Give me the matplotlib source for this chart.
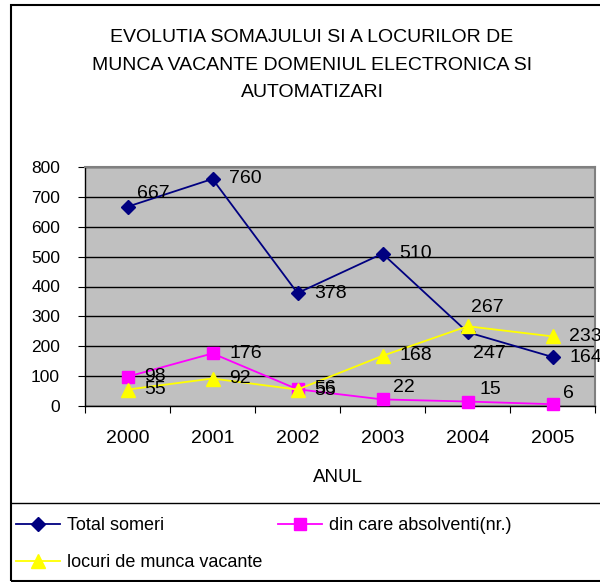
import matplotlib
matplotlib.use("Agg")
import matplotlib.pyplot as plt
from matplotlib.lines import Line2D

plt.rcParams['font.family'] = ['Liberation Sans', 'DejaVu Sans']

# data
ani = ["2000", "2001", "2002", "2003", "2004", "2005"]
total_someri = [667, 760, 378, 510, 247, 164]
absolventi = [98, 176, 56, 22, 15, 6]
locuri_vacante = [55, 92, 55, 168, 267, 233]

titlu = "EVOLUTIA SOMAJULUI SI A LOCURILOR DE\nMUNCA VACANTE DOMENIUL ELECTRONICA SI\nAUTOMATIZARI"

W, H = 600, 582
fig = plt.figure(figsize=(W / 100, H / 100), dpi=100)

def px(x0, y0, x1, y1):
    # pixel box (from top-left) -> figure fraction
    return [x0 / W, 1 - y1 / H, (x1 - x0) / W, (y1 - y0) / H]

ax = fig.add_axes(px(85, 167, 595, 406))
ax.set_facecolor("#C0C0C0")

xs = [i + 0.5 for i in range(len(ani))]

series = [
    ("Total someri", total_someri, "#000080", "D", 7.5),
    ("din care absolventi(nr.)", absolventi, "#FF00FF", "s", 8.5),
    ("locuri de munca vacante", locuri_vacante, "#FFFF00", "^", 10.5),
]

# label nudges in pixels, default is to the right of the point
nudge = {
    (0, 0): (10, 13), (0, 4): (6, -21),
    (1, 3): (10, 12), (1, 4): (12, 12), (1, 5): (10, 11), (1, 2): (17, 1),
    (2, 4): (4, 19), (2, 2): (17, -1),
}

handles = []
for si, (name, vals, col, mk, ms) in enumerate(series):
    h, = ax.plot(xs, vals, color=col, marker=mk, markersize=ms, lw=1.3,
                 markeredgecolor=col, label=name, clip_on=False, zorder=3)
    handles.append(h)
    for i, v in enumerate(vals):
        dx, dy = nudge.get((si, i), (17, 0))
        ax.annotate(str(v), (xs[i], v), xytext=(dx, dy), textcoords="offset pixels",
                    ha="left", va="center", fontsize=14, annotation_clip=False,
                    zorder=4)

ax.set_xlim(0, 6)
ax.set_ylim(0, 800)
ax.set_yticks(range(0, 801, 100))
ax.yaxis.grid(True, color="black", lw=1)
ax.set_axisbelow(True)

ax.set_xticks(range(0, 7))
ax.set_xticklabels([])
ax.set_xticks(xs, minor=True)
ax.set_xticklabels(ani, minor=True, fontsize=14)
ax.tick_params(axis="x", which="major", length=5, direction="out", color="black")
ax.tick_params(axis="x", which="minor", length=0, pad=17)
ax.tick_params(axis="y", length=5, direction="out", pad=13, labelsize=12.5)

for s in ["top", "right"]:
    ax.spines[s].set_color("#808080")
    ax.spines[s].set_linewidth(1.5)
for s in ["left", "bottom"]:
    ax.spines[s].set_color("black")
    ax.spines[s].set_linewidth(1)

fig.text(312 / W, 1 - 65 / H, titlu, ha="center", va="center", fontsize=14,
         linespacing=1.8)
fig.text(338 / W, 1 - 478 / H, "ANUL", ha="center", va="center", fontsize=13.5)

# outer frame and legend separator
fig.add_artist(plt.Rectangle((11 / W, 1 - 581 / H), (W + 20) / W, (576) / H,
                             transform=fig.transFigure, fill=False, ec="black", lw=1.5))
fig.add_artist(Line2D([11 / W, 1.1], [1 - 503 / H] * 2, transform=fig.transFigure,
                      color="black", lw=1))

leg = fig.legend([handles[0], handles[2], handles[1]],
                 [handles[0].get_label(), handles[2].get_label(), handles[1].get_label()],
                 ncol=2, loc="upper left", bbox_to_anchor=(0 / W, 1 - 501 / H),
                 frameon=False, fontsize=13, handlelength=2.4, handletextpad=0.4,
                 columnspacing=0.9, labelspacing=1.1)

fig.savefig("out.png", dpi=100)
